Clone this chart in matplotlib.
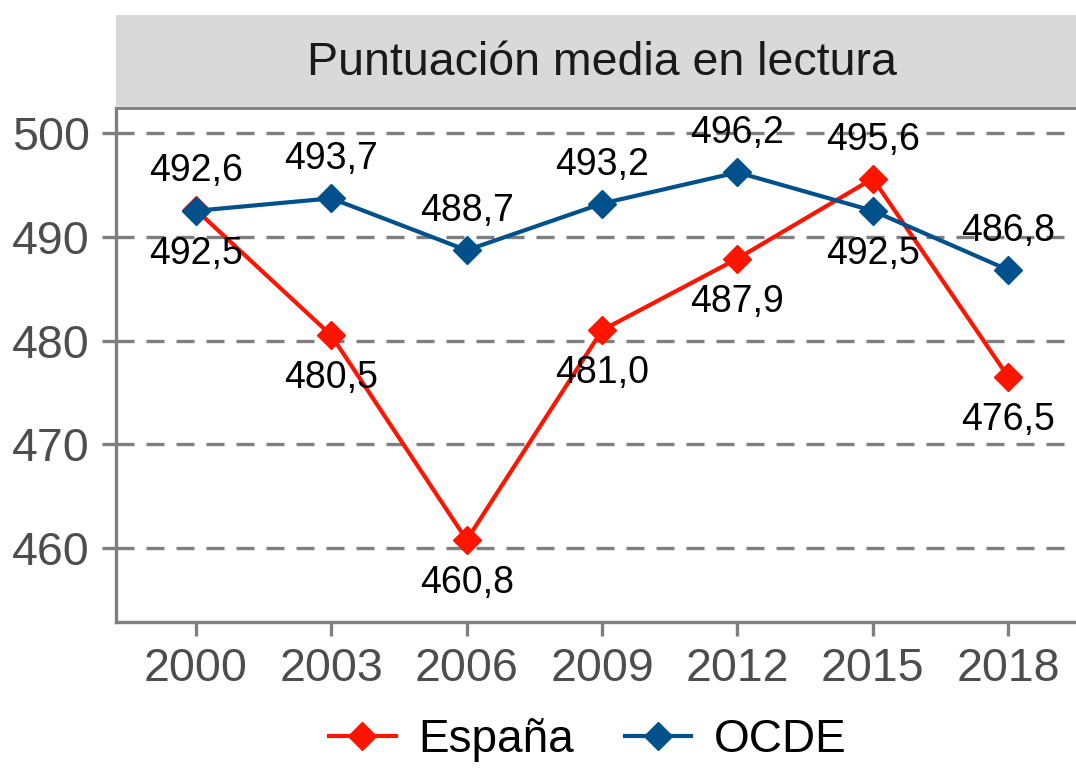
import numpy as np
import matplotlib
matplotlib.use("Agg")
import matplotlib.pyplot as plt
from matplotlib.lines import Line2D

plt.rcParams['font.family'] = ['Liberation Sans', 'DejaVu Sans']

years = [2000, 2003, 2006, 2009, 2012, 2015, 2018]
espana = [492.6, 480.5, 460.8, 481.0, 487.9, 495.6, 476.5]
ocde = [492.5, 493.7, 488.7, 493.2, 496.2, 492.5, 486.8]
title = "Puntuación media en lectura"

red = "#FF1400"
blue = "#00508C"
grey = "#7F7F7F"

fig = plt.figure(figsize=(10.76, 7.68), dpi=100)
ax = fig.add_axes([116 / 1076, 1 - 622 / 768, 1 - 116 / 1076, (622 - 108) / 768])

for y in [460, 470, 480, 490, 500]:
    ax.axhline(y, color=grey, lw=2.4, dashes=(5.4, 3.6), zorder=0)

ax.plot(years, espana, color=red, lw=3, marker="D", ms=14, zorder=3)
ax.plot(years, ocde, color=blue, lw=3, marker="D", ms=14, zorder=3)

# higher value labelled above, lower below
for x, e, o in zip(years, espana, ocde):
    hi, lo = (e, o) if e >= o else (o, e)
    ax.annotate(f"{hi:.1f}".replace(".", ","), (x, hi), xytext=(0, 28),
                textcoords="offset points", ha="center", va="center", fontsize=27, zorder=4)
    ax.annotate(f"{lo:.1f}".replace(".", ","), (x, lo), xytext=(0, -31),
                textcoords="offset points", ha="center", va="center", fontsize=27, zorder=4)

ax.set_xlim(1998.23, 2019.5)
ax.set_ylim(452.9, 502.4)
ax.set_xticks(years)
ax.set_yticks([460, 470, 480, 490, 500])
ax.tick_params(axis="both", colors=grey, width=2.4, length=10, labelsize=33.5,
               labelcolor="#4D4D4D")
ax.tick_params(axis="y", pad=9)
ax.tick_params(axis="x", pad=8)
for s in ["top", "right"]:
    ax.spines[s].set_visible(False)
for s in ["left", "bottom"]:
    ax.spines[s].set_color(grey)
    ax.spines[s].set_linewidth(2.4)

# strip header
strip = fig.add_axes([116 / 1076, 1 - 108 / 768, 1 - 116 / 1076, 93 / 768])
strip.set_facecolor("#D9D9D9")
strip.set_xticks([])
strip.set_yticks([])
for s in ["top", "right", "left"]:
    strip.spines[s].set_visible(False)
strip.spines["bottom"].set_color(grey)
strip.spines["bottom"].set_linewidth(2)
fig.text(602 / 1076, 1 - 63 / 768, title, ha="center", va="center", fontsize=33.5, color="#1A1A1A")

handles = [Line2D([], [], color=red, lw=3, marker="D", ms=14),
           Line2D([], [], color=blue, lw=3, marker="D", ms=14)]
fig.legend(handles, ["España", "OCDE"], loc="center", bbox_to_anchor=(588 / 1076, 1 - 740 / 768),
           ncol=2, frameon=False, fontsize=33, handlelength=1.45, handletextpad=0.5,
           columnspacing=1.1, borderpad=0)

fig.savefig("out.png", dpi=100)
